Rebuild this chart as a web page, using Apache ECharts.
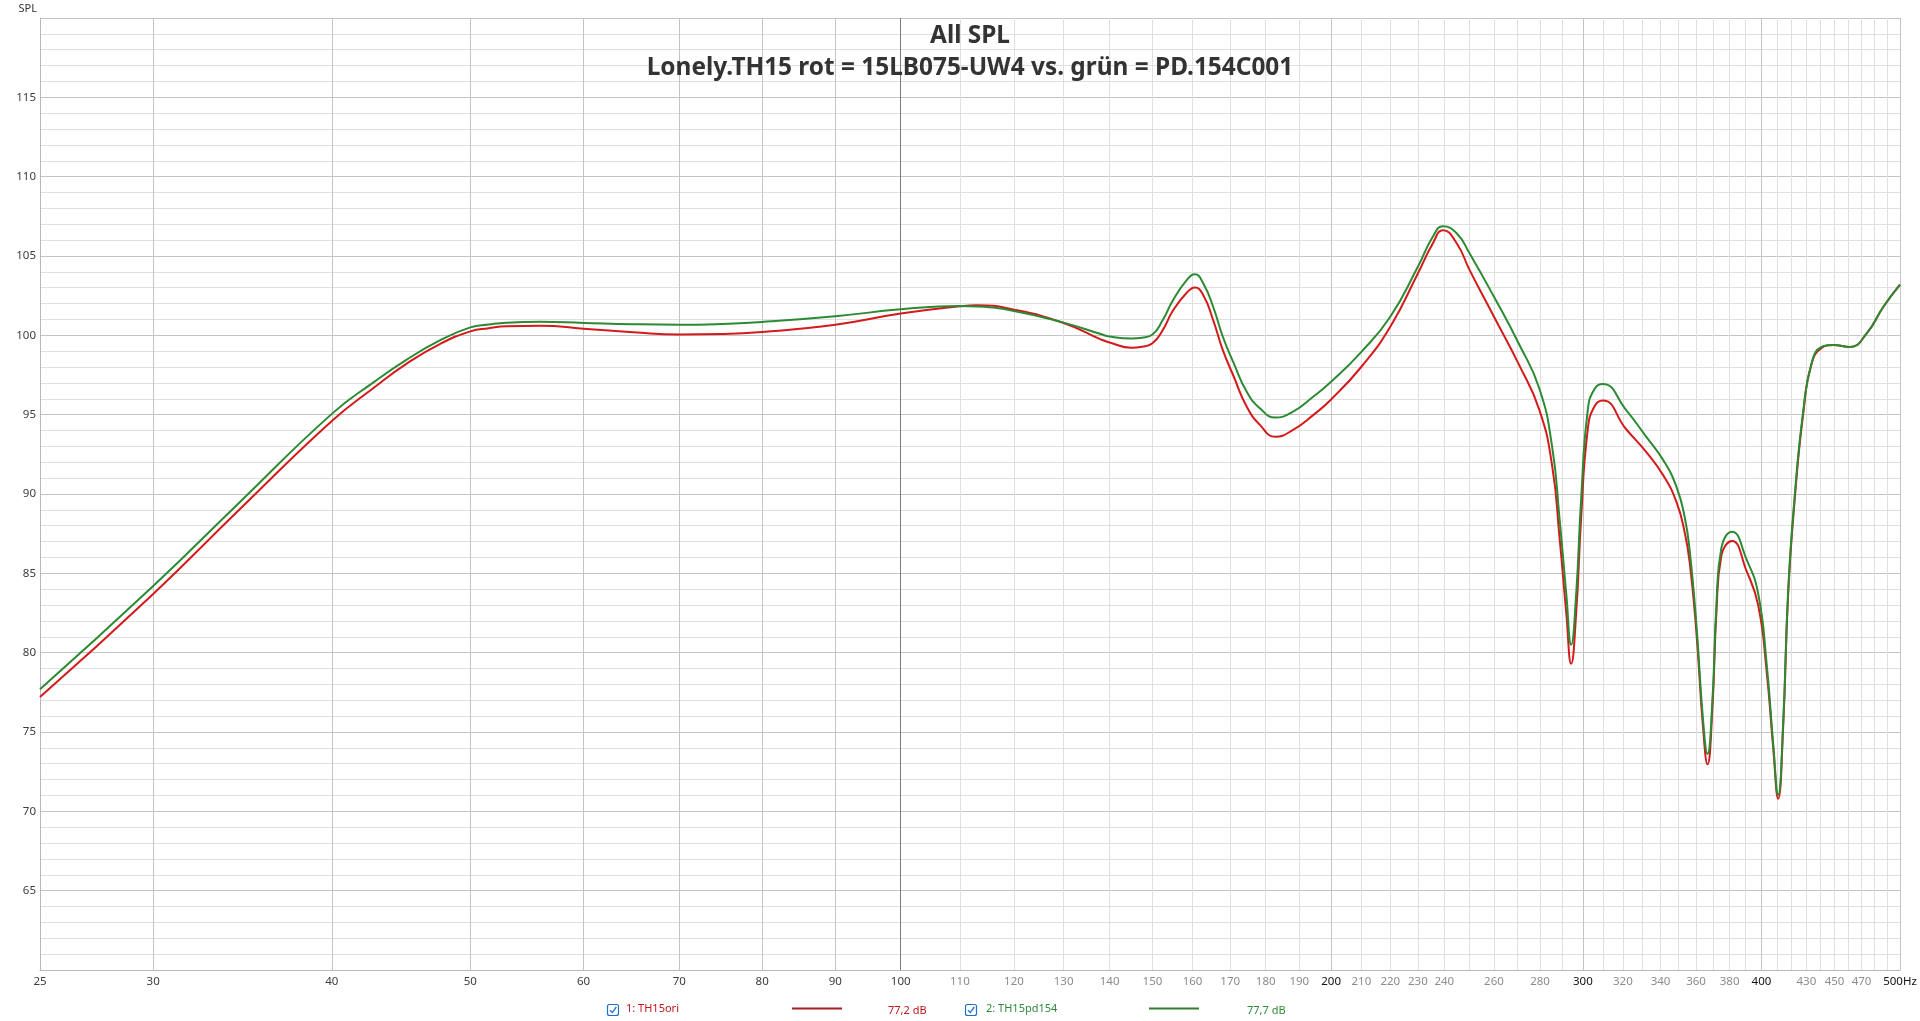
<!DOCTYPE html>
<html>
<head>
<meta charset="utf-8">
<script src="https://cdn.jsdelivr.net/npm/echarts@6/dist/echarts.min.js"></script>
<style>
html,body{margin:0;padding:0;background:#ffffff;}
#chart{width:1920px;height:1021px;}
</style>
</head>
<body>
<div id="chart"></div>
<script>
// ---- data ----
const freqHz = [25, 30, 34.5, 40, 42.8, 45.1, 47.6, 50, 51.5, 53, 56, 60, 65, 70, 75, 80, 90, 100, 110, 113, 120, 130, 138, 140, 145, 147.5, 150, 152.5, 155, 158.5, 160.6, 162.8, 165.4, 168, 171, 174.6, 178.4, 182.8, 188, 194.3, 200, 210, 220, 230, 235.6, 239.5, 244.9, 250, 260, 270.5, 279.7, 285.5, 288.9, 292.1, 294.4, 296.8, 299.2, 302.4, 305.7, 309.8, 321.7, 332.3, 341.4, 348.8, 353.5, 356.4, 360.2, 364.1, 366.7, 369.6, 372.0, 375.0, 381.5, 390.5, 397.9, 403.3, 407.6, 410.9, 414.2, 417.6, 422.1, 427.8, 433.6, 440.7, 449.0, 461.3, 473.9, 486.8, 500];
const splTH15ori = [77.2, 83.7, 89.05, 94.6, 96.7, 98.2, 99.45, 100.25, 100.45, 100.58, 100.6, 100.42, 100.2, 100.05, 100.08, 100.21, 100.67, 101.37, 101.83, 101.9, 101.62, 100.78, 99.75, 99.55, 99.22, 99.28, 99.5, 100.33, 101.55, 102.68, 103.02, 102.53, 100.96, 99.07, 97.39, 95.5, 94.34, 93.61, 94.02, 94.97, 95.96, 98.02, 100.54, 103.9, 105.79, 106.63, 105.79, 104.11, 101.17, 98.2, 95.3, 91.8, 87.33, 82.5, 79.3, 82.5, 88.53, 94.08, 95.53, 95.89, 94.08, 92.64, 91.19, 89.5, 87.57, 85.64, 81.29, 75.26, 72.97, 76.47, 82.5, 86.12, 87.04, 85.15, 82.98, 78.88, 74.05, 70.8, 75.26, 83.71, 89.74, 95.05, 98.19, 99.2, 99.39, 99.27, 100.12, 101.8, 103.2];
const splTH15pd154 = [77.7, 84.2, 89.5, 95.05, 97.05, 98.45, 99.68, 100.5, 100.68, 100.8, 100.85, 100.78, 100.7, 100.67, 100.72, 100.84, 101.2, 101.64, 101.85, 101.82, 101.54, 100.8, 100.08, 99.92, 99.8, 99.85, 100.05, 100.96, 102.2, 103.48, 103.85, 103.27, 101.8, 99.91, 98.23, 96.44, 95.39, 94.82, 95.18, 96.13, 97.07, 98.96, 101.17, 104.32, 106.21, 106.88, 106.42, 105.16, 102.43, 99.5, 96.65, 93.0, 88.53, 83.71, 80.5, 83.71, 89.74, 95.29, 96.62, 96.93, 95.29, 93.6, 92.15, 90.46, 88.53, 86.36, 81.78, 75.74, 73.62, 76.95, 82.98, 86.6, 87.62, 85.88, 83.71, 79.36, 74.3, 71.04, 75.5, 83.95, 89.98, 95.17, 98.23, 99.27, 99.39, 99.27, 100.12, 101.8, 103.2];

const seriesNames = ['1: TH15ori', '2: TH15pd154'];
const legendLevels = ['77,2 dB', '77,7 dB'];
const titleMain = 'All SPL';
const titleSub = 'Lonely.TH15 rot = 15LB075-UW4 vs. grün = PD.154C001';
const yAxisName = 'SPL';

// tick labels / grid line positions (Hz)
const xLabelHz = [25, 30, 40, 50, 60, 70, 80, 90, 100, 110, 120, 130, 140, 150, 160, 170, 180, 190, 200, 210, 220, 230, 240, 260, 280, 300, 320, 340, 360, 380, 400, 430, 450, 470, 500];
const xBlackLabelHz = [200, 300, 400, 500];
const xDarkLabelHz = [25, 30, 40, 50, 60, 70, 80, 90, 100];
const gridLightHz = [110, 120, 130, 140, 150, 160, 170, 180, 190, 210, 220, 230, 240, 250, 260, 270, 280, 290, 310, 320, 330, 340, 350, 360, 370, 380, 390, 410, 420, 430, 440, 450, 460, 470, 480, 490];
const gridMediumHz = [30, 40, 50, 60, 70, 80, 90, 200, 300, 400, 500];
const gridDarkHz = [100];

// ---- styles ----
const FONT = 'Noto Sans';
const RED = '#d41a1a';
const GREEN = '#2b8a33';
const RED_TEXT = '#c0161c';
const GREEN_TEXT = '#2e8b3a';
const BLUE = '#1f6fd1';

function gridAxis(values, color, z) {
  return {
    type: 'log', logBase: 10, min: 25, max: 500, z: z,
    axisLine: { show: false },
    axisTick: { show: false, customValues: values },
    axisLabel: { show: false },
    splitLine: { show: true, lineStyle: { color: color, width: 1 } },
    minorTick: { show: false }, minorSplitLine: { show: false }
  };
}

const mainX = gridAxis(gridLightHz, '#e0e0e0', 0);
mainX.axisLine = { show: true, onZero: false, lineStyle: { color: '#b8b8b8', width: 1 } };
mainX.axisLabel = {
  show: true,
  customValues: xLabelHz,
  margin: 6,
  formatter: function (v) {
    const r = Math.round(v);
    const s = (r === 500) ? '500Hz' : String(r);
    if (xBlackLabelHz.indexOf(r) >= 0) return '{k|' + s + '}';
    if (xDarkLabelHz.indexOf(r) >= 0) return '{d|' + s + '}';
    return '{l|' + s + '}';
  },
  rich: {
    k: { color: '#111111', fontSize: 11.5, fontFamily: FONT },
    d: { color: '#3c3c3c', fontSize: 11.5, fontFamily: FONT },
    l: { color: '#8c8c8c', fontSize: 11.5, fontFamily: FONT }
  }
};

const chart = echarts.init(document.getElementById('chart'), null, { renderer: 'canvas' });
chart.setOption({
  backgroundColor: '#ffffff',
  animation: false,
  title: [
    { text: titleMain, left: 965, top: 19, textAlign: 'center',
      textStyle: { fontSize: 24.4, fontWeight: 'bold', color: '#333333', fontFamily: FONT } },
    { text: titleSub, left: 965, top: 51, textAlign: 'center',
      textStyle: { fontSize: 24.4, fontWeight: 'bold', color: '#333333', fontFamily: FONT } }
  ],
  grid: { left: 40, right: 20, top: 18, bottom: 51, containLabel: false, outerBoundsMode: 'none' },
  xAxis: [
    mainX,
    gridAxis(gridMediumHz, '#c4c4c4', 1),
    gridAxis(gridDarkHz, '#7c7c7c', 2)
  ],
  yAxis: {
    type: 'value', min: 60, max: 120, interval: 5,
    name: yAxisName, nameLocation: 'end', nameGap: 4,
    nameTextStyle: { fontSize: 11, color: '#333333', fontFamily: FONT, align: 'right', padding: [0, 3, 0, 0] },
    axisLine: { show: true, lineStyle: { color: '#b8b8b8', width: 1 } },
    axisTick: { show: false },
    axisLabel: { show: true, margin: 4, fontSize: 11.5, color: '#3c3c3c', fontFamily: FONT,
                 showMinLabel: false, showMaxLabel: false },
    splitLine: { show: true, lineStyle: { color: '#c4c4c4', width: 1 } },
    minorTick: { show: false, splitNumber: 5 },
    minorSplitLine: { show: true, lineStyle: { color: '#e0e0e0', width: 1 } }
  },
  legend: {
    left: 626, top: 1003, padding: 0, orient: 'horizontal', align: 'right',
    itemGap: 144, itemWidth: 50, itemHeight: 2, icon: 'rect', selectedMode: false,
    data: [
      { name: seriesNames[0], itemStyle: { color: '#a61e1e' } },
      { name: seriesNames[1], itemStyle: { color: '#2e7d32' } }
    ],
    formatter: function (name) {
      return name === seriesNames[0] ? '{r|' + name + '}' : '{g|' + name + '}';
    },
    textStyle: {
      fontSize: 11, fontFamily: FONT,
      rich: {
        r: { width: 161, align: 'left', color: RED_TEXT, fontSize: 11, fontFamily: FONT },
        g: { width: 158, align: 'left', color: GREEN_TEXT, fontSize: 11, fontFamily: FONT }
      }
    }
  },
  graphic: [
    { type: 'rect', shape: { x: 607.5, y: 1004.5, width: 11, height: 11, r: 2 },
      style: { fill: '#ffffff', stroke: BLUE, lineWidth: 1.2 } },
    { type: 'polyline', shape: { points: [[610, 1010.2], [612.3, 1012.6], [616.3, 1007]] },
      style: { stroke: BLUE, lineWidth: 1.3, fill: null } },
    { type: 'rect', shape: { x: 965.5, y: 1004.5, width: 11, height: 11, r: 2 },
      style: { fill: '#ffffff', stroke: BLUE, lineWidth: 1.2 } },
    { type: 'polyline', shape: { points: [[968, 1010.2], [970.3, 1012.6], [974.3, 1007]] },
      style: { stroke: BLUE, lineWidth: 1.3, fill: null } },
    { type: 'text', x: 888, y: 1010.5,
      style: { text: legendLevels[0], fill: RED_TEXT, font: '11px "Noto Sans"', verticalAlign: 'middle' } },
    { type: 'text', x: 1247, y: 1010.5,
      style: { text: legendLevels[1], fill: GREEN_TEXT, font: '11px "Noto Sans"', verticalAlign: 'middle' } }
  ],
  series: [
    { name: seriesNames[0], type: 'line', xAxisIndex: 0,
      data: freqHz.map(function (f, i) { return [f, splTH15ori[i]]; }),
      showSymbol: false, symbol: 'none', smooth: 0.5, z: 3,
      color: RED, lineStyle: { color: RED, width: 2 } },
    { name: seriesNames[1], type: 'line', xAxisIndex: 0,
      data: freqHz.map(function (f, i) { return [f, splTH15pd154[i]]; }),
      showSymbol: false, symbol: 'none', smooth: 0.5, z: 4,
      color: GREEN, lineStyle: { color: GREEN, width: 2 } }
  ]
});
</script>
</body>
</html>
